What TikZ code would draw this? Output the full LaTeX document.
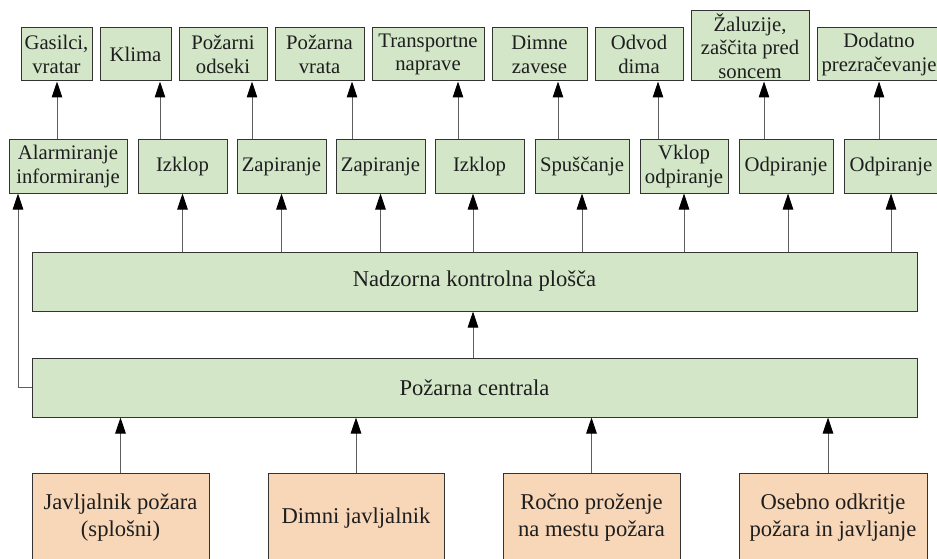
\documentclass[tikz,border=0pt]{standalone}
\usepackage{fontspec}
\setmainfont{Liberation Serif}
\usetikzlibrary{arrows.meta}
\definecolor{boxgreen}{HTML}{D3E6C8}
\definecolor{boxpeach}{HTML}{F8D7B9}
\definecolor{edgegray}{HTML}{333333}
\definecolor{linegray}{HTML}{5E5E5E}
\definecolor{txt}{HTML}{1E1E1E}
\tikzset{
  gbox/.style={draw=edgegray, line width=1pt, fill=boxgreen, inner sep=0pt, align=center,
    minimum height=53pt, font=\fontsize{20.7}{23.5}\selectfont, text=txt},
  bigtext/.style={font=\fontsize{22.6}{27}\selectfont},
  pbox/.style={gbox, bigtext, fill=boxpeach, minimum height=90pt},
  arr/.style={draw=linegray, line width=1pt, -{Triangle[length=16pt,width=10.5pt,color=black]}}
}
\begin{document}
\begin{tikzpicture}[x=1pt,y=-1pt]
\useasboundingbox (0,0) rectangle (937,559);
% top row
\node[gbox, minimum width=71pt] (t1) at (56.5,54.5) {Gasilci,\\vratar};
\node[gbox, minimum width=71pt] (t2) at (135.5,54.5) {Klima};
\node[gbox, minimum width=88pt] (t3) at (223,54.5) {Požarni\\odseki};
\node[gbox, minimum width=89pt] (t4) at (319.5,54.5) {Požarna\\vrata};
\node[gbox, minimum width=112pt] (t5) at (428,54.5) {Transportne\\naprave};
\node[gbox, minimum width=95pt] (t6) at (539.5,54.5) {Dimne\\zavese};
\node[gbox, minimum width=88pt] (t7) at (639,54.5) {Odvod\\dima};
\node[gbox, minimum width=118pt, minimum height=70pt] (t8) at (750,46) {Žaluzije,\\zaščita pred\\soncem};
\node[gbox, minimum width=124pt] (t9) at (879,54.5) {Dodatno\\prezračevanje};
% middle row
\node[gbox, minimum width=118pt] (m1) at (68,166.5) {Alarmiranje\\informiranje};
\node[gbox, minimum width=89pt] (m2) at (182.5,166.5) {Izklop};
\node[gbox, minimum width=89pt] (m3) at (281.5,166.5) {Zapiranje};
\node[gbox, minimum width=89pt] (m4) at (380.5,166.5) {Zapiranje};
\node[gbox, minimum width=89pt] (m5) at (479.5,166.5) {Izklop};
\node[gbox, minimum width=94pt] (m6) at (582,166.5) {Spuščanje};
\node[gbox, minimum width=88pt] (m7) at (684,166.5) {Vklop\\odpiranje};
\node[gbox, minimum width=94pt] (m8) at (786,166.5) {Odpiranje};
\node[gbox, minimum width=94pt] (m9) at (891,166.5) {Odpiranje};
% panels
\node[gbox, bigtext, minimum width=885pt, minimum height=59pt] (nad) at (474.5,281.5) {Nadzorna kontrolna plošča};
\node[gbox, bigtext, minimum width=885pt, minimum height=59pt] (cen) at (474.5,387.5) {Požarna centrala};
% bottom row
\node[pbox, minimum width=177pt] (b1) at (120.5,518) {Javljalnik požara\\(splošni)};
\node[pbox, minimum width=176pt] (b2) at (356,518) {Dimni javljalnik};
\node[pbox, minimum width=177pt] (b3) at (591.5,518) {Ročno proženje\\na mestu požara};
\node[pbox, minimum width=188pt] (b4) at (833,518) {Osebno odkritje\\požara in javljanje};
% middle -> top
\foreach \m/\t/\x in {m1/t1/57, m2/t2/160, m3/t3/252, m4/t4/352, m5/t5/458, m6/t6/558, m7/t7/658, m8/t8/764, m9/t9/879}
  \draw[arr] (\x,0 |- \m.north) -- (\x,0 |- \t.south);
% panel -> middle
\foreach \m/\x in {m2/182.5, m3/281.5, m4/380.5, m5/473, m6/582, m7/684, m8/788, m9/891}
  \draw[arr] (\x,0 |- nad.north) -- (\x,0 |- \m.south);
% centrala -> panel
\draw[arr] (473,0 |- cen.north) -- (473,0 |- nad.south);
% centrala -> alarm
\draw[arr] (cen.west) -- (18,0 |- cen.west) -- (18,0 |- m1.south);
% sensors -> centrala
\foreach \b/\x in {b1/120.5, b2/356, b3/591.5, b4/828}
  \draw[arr] (\x,0 |- \b.north) -- (\x,0 |- cen.south);
\end{tikzpicture}
\end{document}
